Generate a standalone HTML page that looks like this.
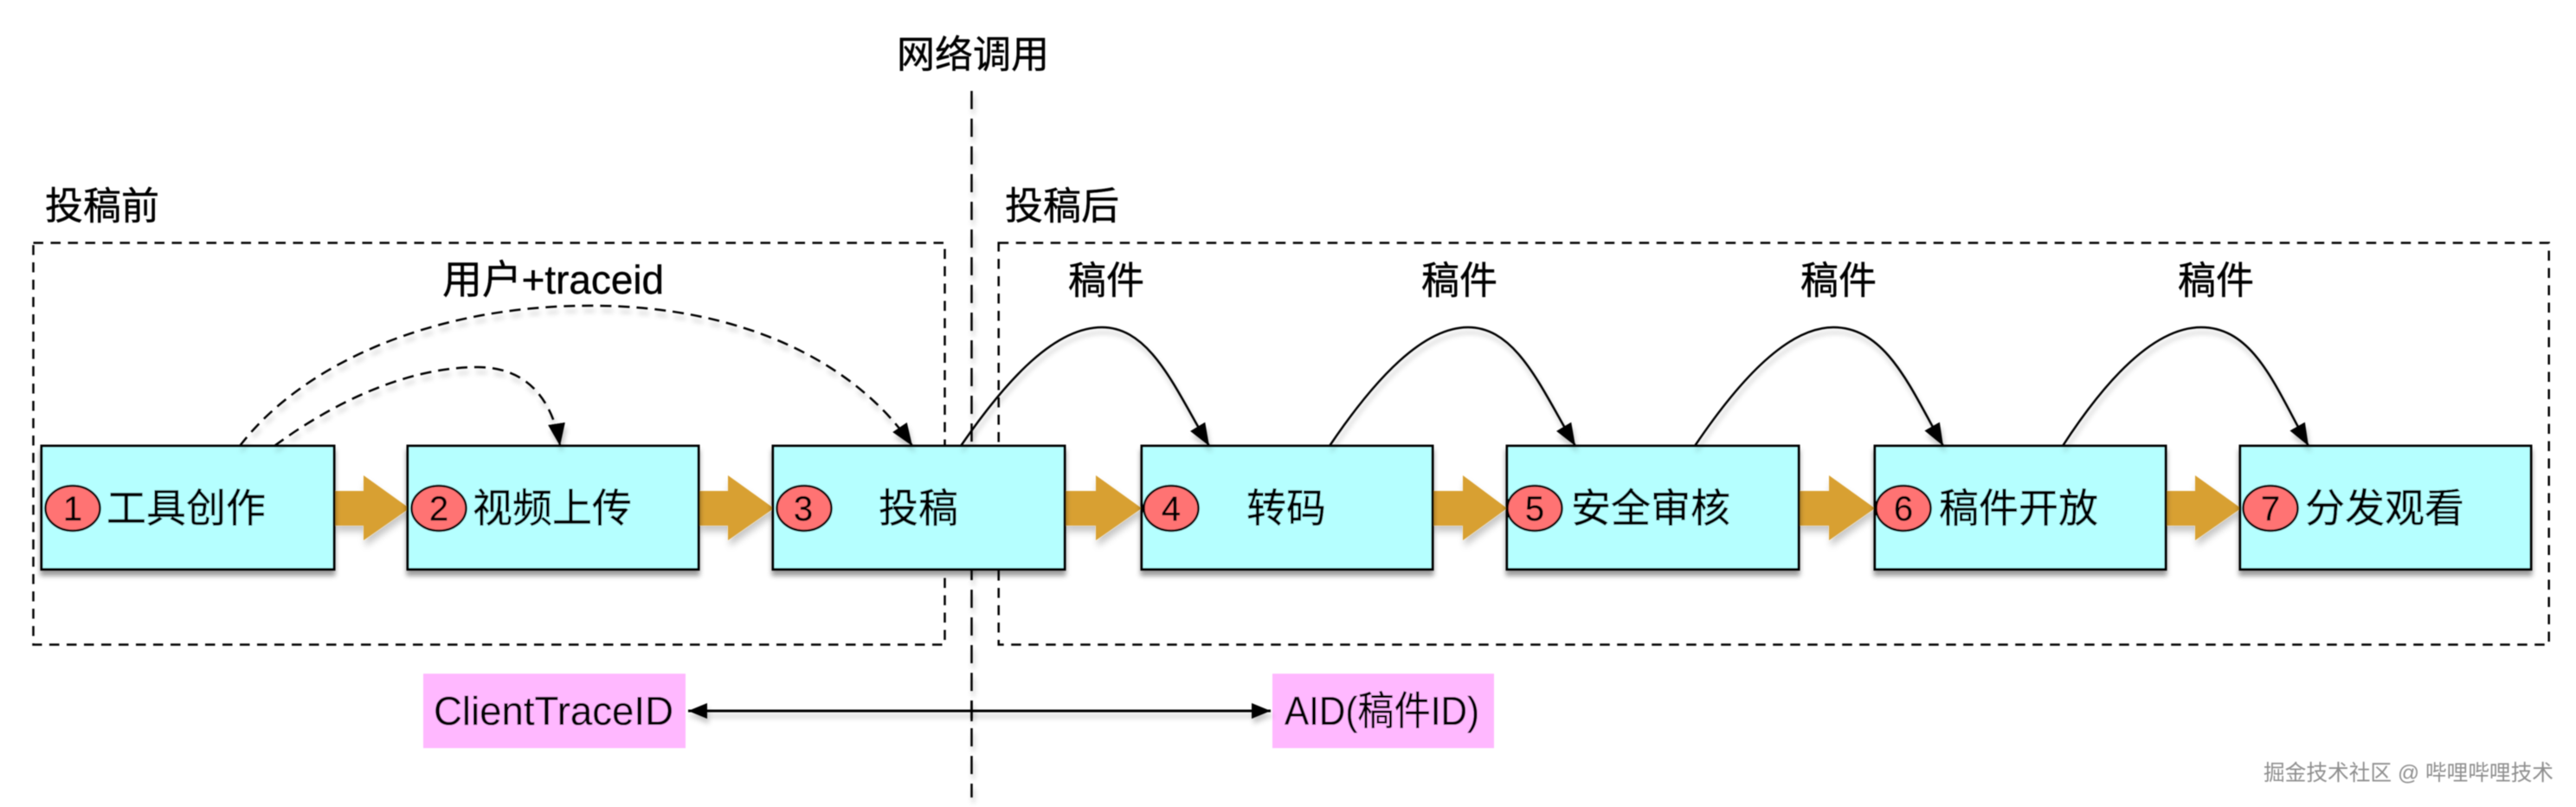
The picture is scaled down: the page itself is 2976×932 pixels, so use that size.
<!DOCTYPE html>
<html><head><meta charset="utf-8">
<style>
html,body{margin:0;padding:0;background:#fff;width:2976px;height:932px;overflow:hidden}
svg{display:block}
text{font-family:"Liberation Sans","Noto Sans CJK SC",sans-serif;fill:#000;stroke:#000;stroke-width:.4px}
.l{font-size:44px}
.b{font-size:46px}
.n{font-size:40px;text-anchor:middle;stroke-width:.2px}
</style></head>
<body>
<svg width="2976" height="932" viewBox="0 0 2976 932" xmlns="http://www.w3.org/2000/svg">
<defs>
<filter id="s" x="-20%" y="-20%" width="140%" height="150%"><feDropShadow dx="0" dy="6" stdDeviation="3" flood-color="#000" flood-opacity=".4"/></filter>
<filter id="sl" filterUnits="userSpaceOnUse" x="0" y="0" width="2976" height="932"><feDropShadow dx="2" dy="6" stdDeviation="3" flood-color="#000" flood-opacity=".22"/></filter>
<filter id="sa" filterUnits="userSpaceOnUse" x="0" y="0" width="2976" height="932"><feDropShadow dx="2" dy="7" stdDeviation="4" flood-color="#000" flood-opacity=".22"/></filter>
<filter id="soft" filterUnits="userSpaceOnUse" x="0" y="0" width="2976" height="932"><feGaussianBlur stdDeviation="0.5"/></filter>
<marker id="a" markerUnits="userSpaceOnUse" markerWidth="28" markerHeight="22" refX="26" refY="10" orient="auto"><path d="M0 0L26 10L0 20z" fill="#000"/></marker>
<marker id="h" markerUnits="userSpaceOnUse" markerWidth="24" markerHeight="20" refX="22" refY="9" orient="auto"><path d="M0 0L22 9L0 18z" fill="#000"/></marker>
<marker id="hs" markerUnits="userSpaceOnUse" markerWidth="24" markerHeight="20" refX="0" refY="9" orient="auto"><path d="M22 0L0 9L22 18z" fill="#000"/></marker>
</defs>
<rect width="2976" height="932" fill="#fff"/>
<g filter="url(#soft)">
<!-- groups -->
<g fill="none" stroke="#000" stroke-width="2.500" stroke-dasharray="11.500 8.500">
<rect x="38.500" y="280.500" width="1053" height="464"/>
<rect x="1153.700" y="280.500" width="1791" height="464"/>
</g>
<path d="M1122.500 105V921" stroke="#000" stroke-width="2.500" stroke-dasharray="21 11" fill="none" filter="url(#sl)"/>

<!-- gold arrows -->
<g fill="#D8A031" filter="url(#sa)">
<path d="M386 567H420V549L473 587L420 624V607H386z"/>
<path d="M807 567H841V549L894 587L841 624V607H807z"/>
<path d="M1230 567H1266V549L1319 587L1266 624V607H1230z"/>
<path d="M1655 567H1690V549L1741 587L1690 624V607H1655z"/>
<path d="M2078 567H2113V549L2166 587L2113 624V607H2078z"/>
<path d="M2502 567H2536V549L2589 587L2536 624V607H2502z"/>
</g>

<!-- boxes -->
<g fill="#B5FFFF" stroke="#000" stroke-width="3" filter="url(#s)">
<rect x="48" y="515" width="338" height="142.500"/>
<rect x="471" y="515" width="336" height="142.500"/>
<rect x="893" y="515" width="337" height="142.500"/>
<rect x="1319" y="515" width="336" height="142.500"/>
<rect x="1741" y="515" width="337" height="142.500"/>
<rect x="2166" y="515" width="336" height="142.500"/>
<rect x="2588" y="515" width="336" height="142.500"/>
</g>

<!-- curves -->
<g fill="none" stroke="#000" stroke-width="2.500" filter="url(#sl)">
<path d="M277 515C350 420 500 353 682 353C860 353 990 420 1054 515" stroke-dasharray="13 8" marker-end="url(#a)"/>
<path d="M317 515C385 465 470 424 552 424C615 424 640 470 647 515" stroke-dasharray="13 8" marker-end="url(#a)"/>
<path d="M1110 515C1165 435 1220 378 1273 378C1330 378 1358 450 1397 515" marker-end="url(#a)"/>
<path d="M1536 515C1590 435 1645 378 1696 378C1753 378 1781 450 1820 515" marker-end="url(#a)"/>
<path d="M1958 515C2012 435 2067 378 2118 378C2180 378 2208 450 2245 515" marker-end="url(#a)"/>
<path d="M2383 515C2435 435 2490 378 2543 378C2605 378 2630 450 2667 515" marker-end="url(#a)"/>
</g>

<!-- circles -->
<g fill="#FF7373" stroke="#000" stroke-width="2.500">
<ellipse cx="84" cy="587" rx="31.500" ry="26"/>
<ellipse cx="507" cy="587" rx="31.500" ry="26"/>
<ellipse cx="929" cy="587" rx="31.500" ry="26"/>
<ellipse cx="1353" cy="587" rx="31.500" ry="26"/>
<ellipse cx="1773" cy="587" rx="31.500" ry="26"/>
<ellipse cx="2199" cy="587" rx="31.500" ry="26"/>
<ellipse cx="2623" cy="587" rx="31.500" ry="26"/>
</g>
<text class="n" x="84" y="601">1</text>
<text class="n" x="507" y="601">2</text>
<text class="n" x="928" y="601">3</text>
<text class="n" x="1353" y="601">4</text>
<text class="n" x="1773" y="601">5</text>
<text class="n" x="2199" y="601">6</text>
<text class="n" x="2623" y="601">7</text>

<!-- box labels -->
<text class="b" x="123" y="603">工具创作</text>
<text class="b" x="546" y="603">视频上传</text>
<text class="b" x="1015" y="603">投稿</text>
<text class="b" x="1440" y="603">转码</text>
<text class="b" x="1815" y="603">安全审核</text>
<text class="b" x="2240" y="603">稿件开放</text>
<text class="b" x="2663" y="603">分发观看</text>

<!-- top labels -->
<text class="l" x="1036" y="78">网络调用</text>
<text class="l" x="52" y="253">投稿前</text>
<text class="l" x="1161" y="253">投稿后</text>
<text class="l" x="511" y="339" font-size="46" style="font-size:46px" textLength="256" lengthAdjust="spacingAndGlyphs">用户+traceid</text>
<text class="l" x="1234" y="339">稿件</text>
<text class="l" x="1642" y="339">稿件</text>
<text class="l" x="2080" y="339">稿件</text>
<text class="l" x="2516" y="339">稿件</text>

<!-- pink -->
<rect x="489" y="778" width="303" height="86" fill="#FFB8FF"/>
<rect x="1470" y="778" width="256" height="86" fill="#FFB8FF"/>
<path d="M795 821H1468" stroke="#000" stroke-width="3" fill="none" marker-start="url(#hs)" marker-end="url(#h)" filter="url(#sl)"/>
<path d="M1122.500 809V833" stroke="#000" stroke-width="2.500" fill="none"/>
<text x="501" y="837" style="font-size:46px;stroke-width:.1px" textLength="277" lengthAdjust="spacingAndGlyphs">ClientTraceID</text>
<text x="1484" y="837" style="font-size:46px;stroke-width:.1px" textLength="225" lengthAdjust="spacingAndGlyphs">AID(稿件ID)</text>

<!-- watermark -->
<text x="2615" y="901" font-size="25" style="fill:#8f8f8f;stroke:none" textLength="335" lengthAdjust="spacingAndGlyphs">掘金技术社区 @ 哔哩哔哩技术</text>
</g>
</svg>
</body></html>
